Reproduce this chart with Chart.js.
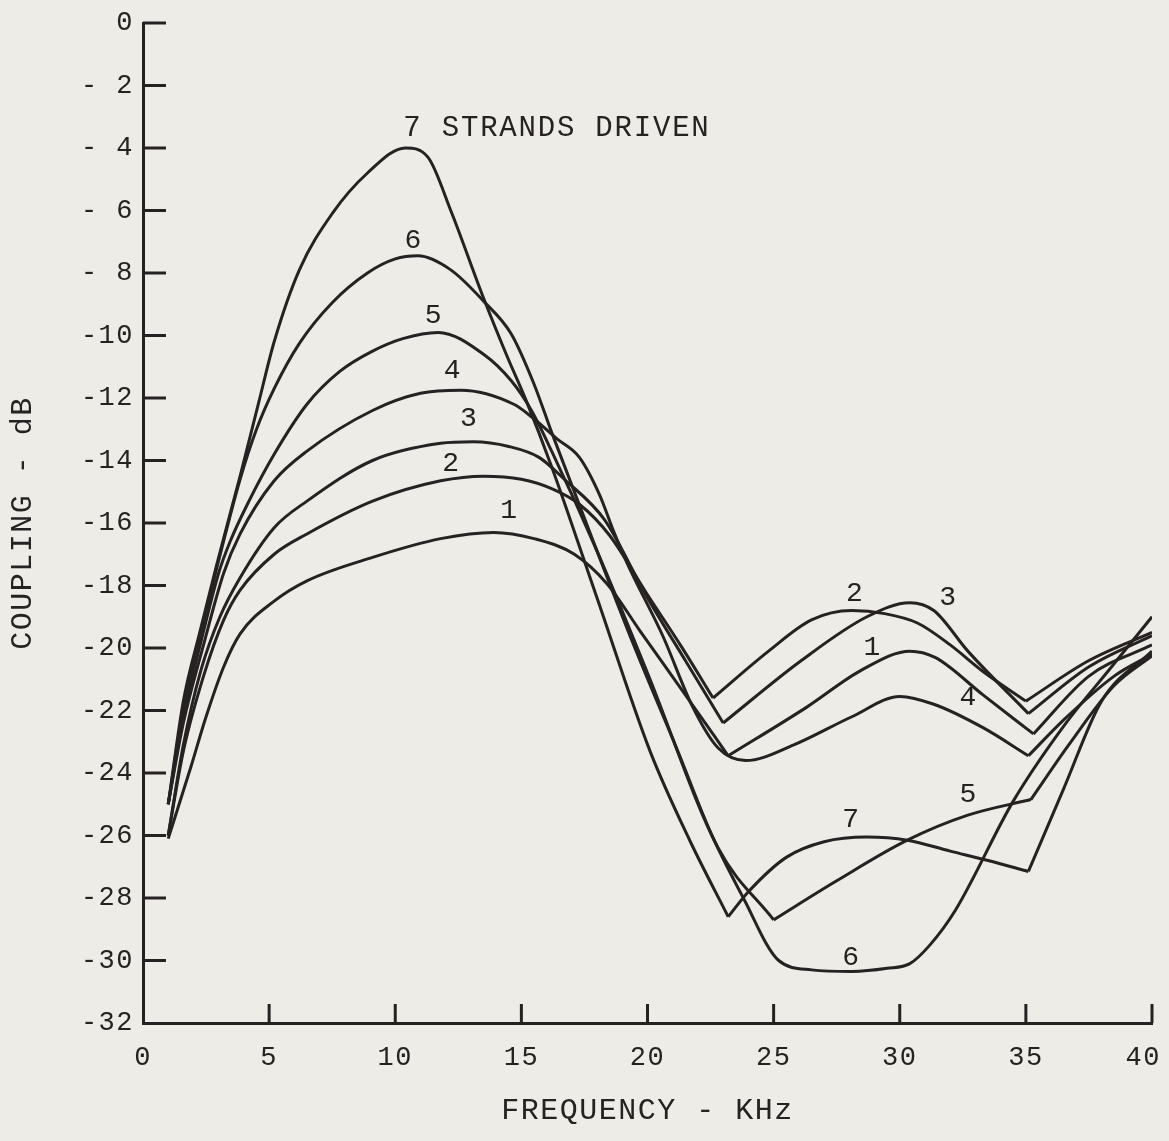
<!DOCTYPE html>
<html>
<head>
<meta charset="utf-8">
<script src="https://cdn.jsdelivr.net/npm/chart.js@4.4.1/dist/chart.umd.min.js"></script>
<style>
  html, body { margin: 0; padding: 0; background: #edece7; }
</style>
</head>
<body>
<canvas id="myChart" width="1169" height="1141"></canvas>
<script>
// [frequency kHz, coupling dB], one list per number of strands driven
const strands1 = [[1.0,-26.1],[1.9,-23.8],[2.5,-22.2],[3.2,-20.6],[3.85,-19.55],[5.2,-18.5],[6.5,-17.85],[9.1,-17.1],[11.8,-16.5],[13.9,-16.3],[15.5,-16.5],[17.1,-17.0],[18.4,-17.95],[19.7,-19.45],[21.5,-21.5],[23.2,-23.45],[26.3,-21.9],[28.5,-20.7],[30.4,-20.1],[31.4,-20.3],[33.3,-21.5],[35.3,-22.75],[37.5,-20.9],[40.0,-19.9]];
const strands2 = [[1.0,-26.0],[1.6,-23.3],[2.4,-20.9],[3.2,-19.1],[3.85,-18.15],[5.2,-17.0],[6.5,-16.35],[9.1,-15.3],[11.8,-14.65],[13.5,-14.5],[15.0,-14.6],[16.2,-14.9],[17.3,-15.4],[18.5,-16.4],[20.0,-18.3],[21.3,-19.9],[22.6,-21.6],[24.8,-20.1],[26.5,-19.1],[28.1,-18.8],[29.4,-18.9],[30.7,-19.2],[32.0,-19.9],[33.3,-20.75],[35.0,-21.7],[37.5,-20.4],[40.0,-19.5]];
const strands3 = [[1.0,-26.0],[1.6,-23.1],[2.3,-20.7],[3.05,-19.0],[3.85,-17.75],[5.2,-16.15],[6.5,-15.3],[9.1,-14.0],[11.8,-13.45],[13.1,-13.4],[14.5,-13.55],[15.7,-13.9],[16.7,-14.6],[18.3,-15.9],[20.0,-18.4],[21.5,-20.4],[23.0,-22.4],[26.1,-20.4],[28.7,-19.0],[30.4,-18.55],[31.35,-18.8],[32.7,-20.1],[35.1,-22.1],[37.5,-20.6],[40.0,-19.6]];
const strands4 = [[1.0,-25.0],[1.6,-22.4],[2.4,-19.9],[3.2,-17.6],[3.85,-16.35],[5.2,-14.65],[6.5,-13.7],[9.1,-12.4],[11.0,-11.85],[12.6,-11.75],[14.7,-12.2],[15.4,-12.6],[16.4,-13.3],[17.3,-13.9],[18.1,-15.1],[18.65,-16.25],[19.2,-17.3],[20.6,-19.6],[21.8,-21.9],[22.8,-23.2],[23.9,-23.6],[25.8,-23.1],[28.1,-22.2],[30.0,-21.55],[31.35,-21.8],[33.3,-22.55],[35.1,-23.45],[36.5,-22.3],[38.5,-20.9],[40.0,-20.2]];
const strands5 = [[1.0,-25.0],[1.6,-22.2],[2.3,-19.8],[3.0,-17.6],[3.45,-16.6],[4.2,-15.3],[5.2,-13.8],[6.5,-12.2],[7.8,-11.15],[9.1,-10.5],[10.3,-10.1],[11.7,-9.9],[13.5,-10.6],[14.6,-11.45],[15.4,-12.4],[16.2,-13.7],[18.0,-16.9],[20.0,-20.8],[22.8,-26.4],[25.0,-28.7],[27.5,-27.45],[30.3,-26.15],[32.7,-25.35],[35.2,-24.85],[36.7,-23.1],[38.5,-21.2],[40.0,-20.25]];
const strands6 = [[1.0,-25.0],[1.6,-21.9],[2.3,-19.5],[3.0,-17.2],[3.85,-14.6],[4.5,-13.0],[5.2,-11.7],[6.2,-10.25],[7.5,-8.95],[8.9,-8.0],[10.0,-7.55],[10.9,-7.45],[12.2,-7.9],[13.5,-8.9],[14.6,-9.95],[15.5,-11.55],[16.2,-13.1],[18.0,-16.9],[19.5,-20.0],[21.2,-23.3],[22.5,-25.9],[23.8,-28.0],[25.2,-30.0],[26.5,-30.3],[28.1,-30.35],[29.5,-30.25],[30.4,-30.1],[31.2,-29.5],[32.2,-28.4],[34.5,-24.9],[36.5,-22.5],[38.4,-20.6],[40.0,-19.0]];
const strands7 = [[1.0,-25.0],[1.6,-21.7],[2.25,-19.5],[2.9,-17.4],[3.85,-14.5],[4.6,-12.1],[5.2,-10.2],[6.2,-7.9],[7.5,-6.1],[8.9,-4.8],[10.4,-4.0],[11.3,-4.3],[12.2,-6.0],[13.5,-8.8],[14.4,-10.6],[15.2,-12.1],[16.2,-14.2],[18.0,-18.4],[20.1,-23.3],[21.7,-26.2],[23.2,-28.6],[24.0,-27.8],[25.5,-26.7],[27.0,-26.2],[28.7,-26.05],[30.3,-26.15],[32.0,-26.5],[33.5,-26.8],[35.1,-27.15],[36.5,-24.5],[38.0,-21.7],[40.0,-20.1]];

// frequencies where a curve has a sharp corner instead of a smooth bend
const corners1 = [23.2, 35.3];
const corners2 = [22.6, 35.0];
const corners3 = [23.0, 35.1];
const corners4 = [35.1];
const corners5 = [25.0, 35.2];
const corners6 = [];
const corners7 = [23.2, 35.1];

const xTicks = [0, 5, 10, 15, 20, 25, 30, 35, 40];
const xTickLabels = ['0', '5', '10', '15', '20', '25', '30', '35', '40 '];
const yTicks = [0, -2, -4, -6, -8, -10, -12, -14, -16, -18, -20, -22, -24, -26, -28, -30, -32];
const yTickLabels = ['0', '- 2', '- 4', '- 6', '- 8', '-10', '-12', '-14', '-16', '-18', '-20', '-22', '-24', '-26', '-28', '-30', '-32'];

// curve numbers written on the plot: text, frequency, dB
const curveNames = ['6', '5', '4', '3', '2', '1', '2', '3', '1', '4', '5', '7', '6'];
const nameFreq = [10.7, 11.5, 12.26, 12.9, 12.2, 14.5, 28.2, 31.9, 28.9, 32.7, 32.7, 28.05, 28.05];
const nameDb = [-6.96, -9.36, -11.12, -12.66, -14.1, -15.6, -18.27, -18.4, -20.0, -21.6, -24.7, -25.5, -29.9];

const INK = '#262222';
const PAPER = '#edece7';
const FONT = "'Liberation Mono', 'DejaVu Sans Mono', monospace";

function pieces(points, corners) {
  var out = [];
  var cur = [];
  points.forEach(function(p) {
    cur.push({x: p[0], y: p[1]});
    if (corners.indexOf(p[0]) >= 0) {
      out.push(cur);
      cur = [{x: p[0], y: p[1]}];
    }
  });
  if (cur.length > 1) out.push(cur);
  return out;
}

var datasets = [];
[[strands1, corners1], [strands2, corners2], [strands3, corners3], [strands4, corners4],
 [strands5, corners5], [strands6, corners6], [strands7, corners7]].forEach(function(c) {
  pieces(c[0], c[1]).forEach(function(seg) {
    datasets.push({
      data: seg,
      borderColor: INK,
      borderWidth: 3,
      pointRadius: 0,
      cubicInterpolationMode: 'monotone',
      fill: false,
    });
  });
});

const paperAndMarks = {
  id: 'paperAndMarks',
  beforeDraw(chart) {
    var ctx = chart.ctx;
    ctx.fillStyle = PAPER;
    ctx.fillRect(0, 0, chart.width, chart.height);
    // typewriter-like spacing for every label drawn after this
    ctx.letterSpacing = '1.5px';
  },
  afterDraw(chart) {
    var ctx = chart.ctx;
    var xs = chart.scales.x, ys = chart.scales.y;
    var area = chart.chartArea;
    ctx.save();
    ctx.strokeStyle = INK;
    ctx.lineWidth = 3;
    // tick marks point into the plot
    yTicks.forEach(function(v) {
      if (v === -32) return;
      var py = ys.getPixelForValue(v);
      ctx.beginPath();
      ctx.moveTo(area.left, py);
      ctx.lineTo(area.left + 23, py);
      ctx.stroke();
    });
    xTicks.forEach(function(v) {
      if (v === 0) return;
      var px = xs.getPixelForValue(v);
      ctx.beginPath();
      ctx.moveTo(px, area.bottom);
      ctx.lineTo(px, area.bottom - 19);
      ctx.stroke();
    });
    ctx.fillStyle = INK;
    ctx.textBaseline = 'middle';
    ctx.letterSpacing = '0px';
    ctx.font = '28px ' + FONT;
    ctx.textAlign = 'center';
    curveNames.forEach(function(t, i) {
      ctx.fillText(t, xs.getPixelForValue(nameFreq[i]), ys.getPixelForValue(nameDb[i]));
    });
    ctx.letterSpacing = '1.8px';
    ctx.font = '29px ' + FONT;
    ctx.textAlign = 'left';
    ctx.fillText('7 STRANDS DRIVEN', xs.getPixelForValue(10.32), ys.getPixelForValue(-3.37));
    ctx.restore();
  }
};

var ctx = document.getElementById('myChart').getContext('2d');
var chart = new Chart(ctx, {
  type: 'line',
  data: { datasets: datasets },
  plugins: [paperAndMarks],
  options: {
    responsive: false,
    animation: false,
    layout: { padding: { left: 0, top: 23, right: 0, bottom: 0 } },
    plugins: { legend: { display: false }, tooltip: { enabled: false } },
    scales: {
      x: {
        type: 'linear',
        min: 0,
        max: 40,
        afterFit: function(scale) {
          scale.height = 118;
          scale.paddingLeft = 0;
          scale.paddingRight = 17;
        },
        afterBuildTicks: function(scale) { scale.ticks = xTicks.map(function(v) { return {value: v}; }); },
        grid: { display: false, drawTicks: false },
        border: { display: true, color: INK, width: 3 },
        ticks: {
          color: INK,
          font: { family: FONT, size: 27 },
          padding: 19,
          maxRotation: 0,
          callback: function(value) { var i = xTicks.indexOf(value); return i >= 0 ? xTickLabels[i] : ''; },
        },
        title: { display: true, text: 'FREQUENCY - KHz', color: INK, font: { family: FONT, size: 30 }, padding: { top: 0, bottom: 12 } },
      },
      y: {
        type: 'linear',
        min: -32,
        max: 0,
        afterFit: function(scale) {
          scale.width = 143;
          scale.paddingTop = 0;
          scale.paddingBottom = 0;
        },
        afterBuildTicks: function(scale) { scale.ticks = yTicks.map(function(v) { return {value: v}; }); },
        grid: { display: false, drawTicks: false },
        border: { display: true, color: INK, width: 3 },
        ticks: {
          color: INK,
          font: { family: FONT, size: 27 },
          padding: 9,
          callback: function(value) { var i = yTicks.indexOf(value); return i >= 0 ? yTickLabels[i] : ''; },
        },
        title: { display: true, text: 'COUPLING - dB', color: INK, font: { family: FONT, size: 30 }, padding: { top: 5, bottom: 0 } },
      },
    },
  },
});
</script>
</body>
</html>
